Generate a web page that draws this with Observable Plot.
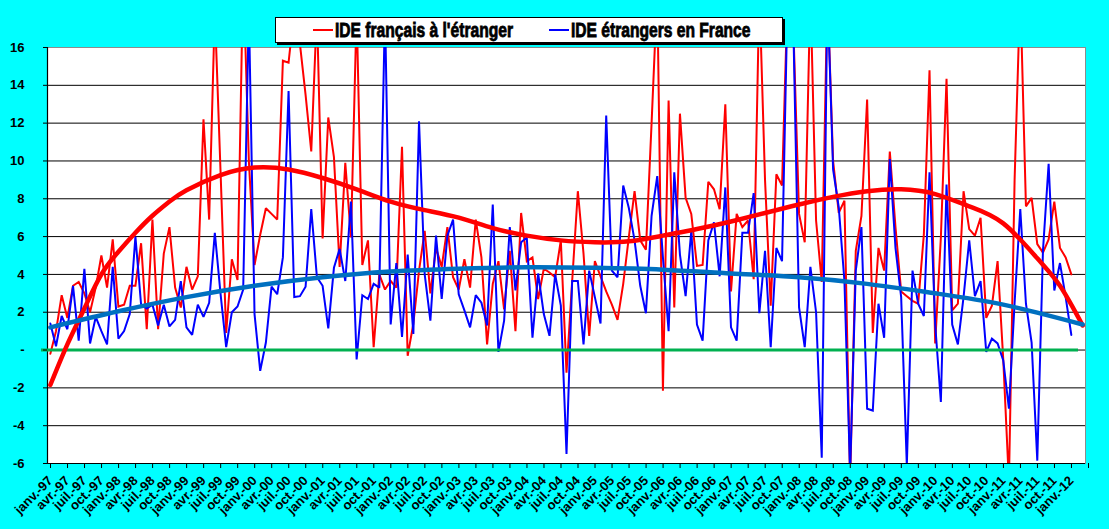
<!DOCTYPE html>
<html>
<head>
<meta charset="utf-8">
<script src="https://cdn.jsdelivr.net/npm/d3@7"></script>
<script src="https://cdn.jsdelivr.net/npm/@observablehq/plot@0.6"></script>
<style>
  html, body { margin: 0; padding: 0; background: #00FFFF; }
  #wrap { position: relative; width: 1109px; height: 529px; background: #00FFFF; overflow: hidden; }
  #legend {
    position: absolute; left: 275px; top: 17px; width: 506px; height: 24px;
    background: #fff; border: 1px solid #000; box-shadow: 2px 2px 0 #000;
    font-family: "Liberation Sans", Arial, sans-serif;
    font-weight: bold; font-size: 20px; color: #000; white-space: nowrap;
  }
  #legend .sw { position: absolute; top: 11px; width: 20px; height: 2px; }
  #legend .tx { position: absolute; top: 0; line-height: 24px; font-weight: 700;
    -webkit-text-stroke: 0.8px #000; transform: scaleX(0.78); transform-origin: 0 50%; }
  #chart { position: absolute; left: 0; top: 0; }
</style>
</head>
<body>
<div id="wrap">
  <div id="chart"></div>
  <div id="legend"></div>
</div>
<script>
// ---- data (monthly, janv. 1997 -> janv. 2012) ----
const seriesNames = ["IDE français à l'étranger", "IDE étrangers en France"];
const seriesColors = ["#FF0000", "#0000FF"];

const redValues = [
  -0.2, 1.0, 2.9, 1.7, 3.4, 3.6, 3.0, 2.0, 3.3, 5.0, 3.3, 5.85,
  2.3, 2.4, 3.4, 3.4, 5.65, 1.1, 6.9, 1.1, 5.1, 6.5, 3.3, 2.25,
  4.4, 3.2, 3.9, 12.2, 6.9, 18, 9.5, 0.9, 4.8, 3.7, 20, 10,
  4.5, 6.1, 7.5, 7.2, 6.9, 15.3, 15.2, 18, 16.2, 13.5, 10.5, 18,
  5.9, 12.3, 10.2, 4.4, 9.9, 5.95, 18, 4.5, 5.8, 0.15, 4.0, 3.2,
  3.65, 3.3, 10.75, -0.3, 1.4, 4.2, 6.3, 3.0, 5.4, 4.4, 6.5, 3.85,
  3.2, 4.8, 3.3, 6.9, 4.9, 0.3, 3.5, 4.7, 2.15, 5.25, 1.0, 7.25,
  4.7, 4.9, 2.7, 4.3, 4.1, 3.85, 5.8, -1.2, 3.65, 8.4, 5.1, 0.75,
  4.7, 3.9, 3.1, 2.4, 1.6, 3.5, 6.0, 8.4, 5.8, 5.3, 12, 19,
  -2.15, 13.2, 2.25, 12.5, 8.05, 7.2, 4.45, 4.5, 8.9, 8.5, 7.45, 13.0,
  3.1, 7.2, 6.5, 6.85, 3.75, 19, 9, 2.35, 9.3, 8.7, 19, 17,
  7.2, 5.7, 19, 6.85, 3.6, 19, 10, 7.25, 7.9, -7, 5.25, 7.1,
  13.25, 0.9, 5.4, 4.2, 10.5, 6.5, 3.1, 2.85, 2.6, 2.45, 6.1, 14.8,
  0.35, 5.95, 14.35, 2.1, 2.45, 8.4, 6.4, 6.05, 7.0, 1.7, 2.35, 4.7,
  -0.5, -7, 9, 19, 7.6, 8.05, 5.6, 5.15, 5.85, 7.85, 5.4, 4.9,
  4.0
];

const blueValues = [
  1.4, 0.2, 1.8, 1.1, 3.4, 0.5, 4.3, 0.35, 1.75, 1.0, 0.3, 4.4,
  0.6, 1.0, 1.9, 6.0, 2.4, 2.2, 2.4, 1.3, 2.4, 1.25, 1.6, 3.65,
  1.2, 0.8, 2.4, 1.75, 2.5, 6.2, 3.0, 0.15, 2.0, 2.3, 3.2, 18,
  1.9, -1.1, 0.4, 3.35, 2.95, 4.9, 13.7, 2.8, 2.85, 3.35, 7.45, 3.85,
  3.4, 1.15, 4.35, 5.35, 3.65, 7.85, -0.5, 2.9, 2.7, 3.5, 3.3, 18,
  1.35, 4.6, 0.7, 5.05, 0.85, 12.1, 4.0, 1.55, 6.05, 2.7, 6.05, 6.9,
  2.95, 2.1, 1.2, 2.9, 2.5, 1.3, 7.7, -0.1, 1.55, 6.5, 3.15, 5.7,
  5.95, 0.65, 4.05, 1.9, 0.75, 4.0, 2.35, -5.5, 3.65, 3.65, 0.3, 4.2,
  2.8, 1.4, 12.4, 4.2, 3.85, 8.7, 7.5, 5.8, 3.4, 1.95, 7.1, 9.2,
  4.9, 1.0, 9.4, 5.05, 2.85, 6.3, 1.35, 0.5, 5.8, 6.75, 3.9, 8.6,
  1.2, 0.5, 6.2, 6.2, 8.3, 1.95, 5.25, 0.15, 5.4, 4.7, 19, 17,
  2.25, 0.15, 4.4, 2.0, -5.7, 19, 9.55, 7.55, 3.65, -6.5, 4.2, 6.5,
  -3.1, -3.2, 2.45, 0.65, 10.1, 5.4, 2.8, -6.1, 4.2, 2.45, 1.8, 9.4,
  1.35, -2.75, 8.75, 1.35, 0.3, 2.8, 5.8, 2.85, 3.65, -0.1, 0.6, 0.35,
  -0.55, -3.1, 2.5, 7.45, 2.45, 0.4, -5.85, 5.25, 9.85, 3.15, 4.6, 2.8,
  0.8
];

// polynomial trend lines (values at given month indices)
const redTrendMonths = [0, 3, 6, 9, 12, 15, 18, 21, 24, 30, 36, 42, 48, 54, 60, 66, 72, 78, 84, 90, 96, 102, 108, 114, 120, 126, 132, 138, 144, 150, 156, 162, 168, 174, 178, 182];
const redTrendValues = [-1.85, 0.3, 2.2, 4.0, 5.2, 6.2, 7.1, 7.85, 8.45, 9.25, 9.65, 9.55, 9.1, 8.5, 7.85, 7.4, 7.0, 6.45, 6.05, 5.8, 5.7, 5.75, 6.05, 6.4, 6.8, 7.25, 7.7, 8.1, 8.4, 8.5, 8.25, 7.6, 6.7, 4.85, 3.4, 1.3];
const blueTrendMonths = [0, 12, 24, 36, 48, 60, 72, 84, 96, 108, 120, 132, 144, 156, 168, 182];
const blueTrendValues = [1.2, 2.05, 2.8, 3.4, 3.85, 4.15, 4.3, 4.38, 4.35, 4.25, 4.05, 3.85, 3.5, 3.0, 2.4, 1.35];

// axis labels
const quarterNames = ["janv.", "avr.", "juil.", "oct."];
const yearLabels = ["97", "98", "99", "00", "01", "02", "03", "04", "05", "06", "07", "08", "09", "10", "11", "12"];
const tickLabels = yearLabels.flatMap(y => quarterNames.map(q => `${q}-${y}`)).slice(0, 61);
const yTicks = [-6, -4, -2, 0, 2, 4, 6, 8, 10, 12, 14, 16];
const zeroValue = [0];
const nCategories = 183;

// ---- build tables ----
const red = redValues.map((v, i) => ({i, v}));
const blue = blueValues.map((v, i) => ({i, v}));
const redTrend = redTrendMonths.map((m, k) => ({i: m, v: redTrendValues[k]}));
const blueTrend = blueTrendMonths.map((m, k) => ({i: m, v: blueTrendValues[k]}));
const xDomain = [-0.5, nCategories - 0.5];
const xTicks = d3.range(0, nCategories / 3 + 1).map(k => 3 * k - 0.5);
const gridValues = yTicks.filter(t => t !== yTicks[0] && t !== yTicks[yTicks.length - 1]);

const chart = Plot.plot({
  width: 1109,
  height: 529,
  marginLeft: 47,
  marginRight: 24,
  marginTop: 47,
  marginBottom: 66,
  style: {background: "transparent", fontFamily: "'Liberation Sans', Arial, sans-serif", overflow: "visible"},
  x: {domain: xDomain, axis: null},
  y: {domain: [yTicks[0], yTicks[yTicks.length - 1]], axis: null},
  marks: [
    Plot.frame({fill: "white", stroke: "#8c8c8c"}),
    Plot.ruleY(gridValues, {stroke: "#000", strokeWidth: 1}),
    Plot.ruleX([xDomain[0]], {stroke: "#000", strokeWidth: 1.2}),
    Plot.ruleY([yTicks[0]], {stroke: "#000", strokeWidth: 1.2}),
    Plot.line(red, {x: "i", y: "v", stroke: seriesColors[0], strokeWidth: 2, clip: true, strokeLinejoin: "miter", strokeMiterlimit: 2}),
    Plot.line(blue, {x: "i", y: "v", stroke: seriesColors[1], strokeWidth: 2, clip: true, strokeLinejoin: "miter", strokeMiterlimit: 2}),
    Plot.ruleY(zeroValue, {stroke: "#00B050", strokeWidth: 3, insetLeft: -6, insetRight: 7}),
    Plot.line(redTrend, {x: "i", y: "v", stroke: "#FF0000", strokeWidth: 4.5, curve: "natural", clip: true}),
    Plot.line(blueTrend, {x: "i", y: "v", stroke: "#0070C0", strokeWidth: 4.5, curve: "natural", clip: true}),
    Plot.axisY({
      ticks: yTicks,
      tickFormat: d => d === 0 ? "-" : String(d),
      tickSize: 4,
      tickPadding: 19,
      fontSize: 13,
      fontWeight: "bold",
      color: "#000",
      label: null
    }),
    Plot.axisX({
      ticks: xTicks,
      tickFormat: d => tickLabels[Math.round((d + 0.5) / 3)] ?? "",
      tickSize: 5,
      tickPadding: 10,
      dx: 3,
      tickRotate: -45,
      fontSize: 13,
      fontWeight: "bold",
      color: "#000",
      label: null
    })
  ]
});
document.getElementById("chart").appendChild(chart);

// legend
const legend = document.getElementById("legend");
const legendSwatchX = [37, 273];
seriesNames.forEach((name, k) => {
  const sw = document.createElement("span");
  sw.className = "sw";
  sw.style.left = legendSwatchX[k] + "px";
  sw.style.background = seriesColors[k];
  const tx = document.createElement("span");
  tx.className = "tx";
  tx.style.left = (legendSwatchX[k] + 22) + "px";
  tx.textContent = name;
  legend.appendChild(sw);
  legend.appendChild(tx);
});
</script>
</body>
</html>
